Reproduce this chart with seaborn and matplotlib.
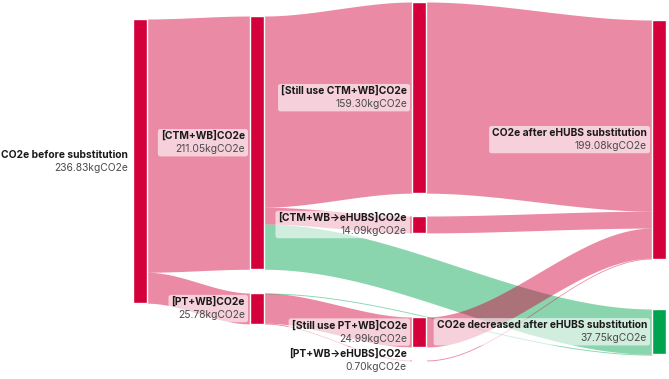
import numpy as np
import matplotlib
matplotlib.use("Agg")
import matplotlib.pyplot as plt
from matplotlib.patches import FancyBboxPatch
import seaborn as sns

sns.set_theme(style="white")
plt.rcParams['font.family'] = ['Inter', 'DejaVu Sans']

# data
node_names = ["CO2e before substitution", "[CTM+WB]CO2e", "[PT+WB]CO2e",
              "[Still use CTM+WB]CO2e", "[CTM+WB\u2192eHUBS]CO2e",
              "[Still use PT+WB]CO2e", "[PT+WB\u2192eHUBS]CO2e",
              "CO2e after eHUBS substitution", "CO2e decreased after eHUBS substitution"]
node_values = [236.83, 211.05, 25.78, 159.30, 14.09, 24.99, 0.70, 199.08, 37.75]
link_source = [0, 0, 1, 1, 1, 2, 2, 2, 3, 4, 5, 6]
link_target = [1, 2, 3, 4, 8, 5, 6, 8, 7, 7, 7, 7]
link_value = [211.05, 25.78, 159.30, 14.09, 37.66, 24.99, 0.70, 0.09, 159.30, 14.09, 24.99, 0.70]
unit = "kgCO2e"

# layout (pixels)
node_col = [0, 1, 1, 2, 2, 2, 2, 3, 3]
col_x = [133, 250, 412, 652]
node_top = [19, 16, 293, 2, 216, 317, 360, 20, 309]
node_w = 14
k = 1.2  # px per kgCO2e
RED = "#d4003b"
GREEN = "#00a34f"
node_color = [RED] * 8 + [GREEN]

fig = plt.figure(figsize=(6.69, 3.79), dpi=100)
ax = fig.add_axes([0, 0, 1, 1])
ax.set_xlim(0, 669)
ax.set_ylim(379, 0)
ax.axis("off")

heights = [max(v * k, 1.2) for v in node_values]
centers = [t + h / 2 for t, h in zip(node_top, heights)]

# link offsets at sources / targets
out_off = {i: node_top[i] for i in range(len(node_names))}
in_off = {i: node_top[i] for i in range(len(node_names))}
src_pos, tgt_pos = {}, {}
for i in range(len(node_names)):
    outs = sorted([j for j, s in enumerate(link_source) if s == i], key=lambda j: centers[link_target[j]])
    for j in outs:
        src_pos[j] = out_off[i]
        out_off[i] += link_value[j] * k
    ins = sorted([j for j, t in enumerate(link_target) if t == i], key=lambda j: centers[link_source[j]])
    for j in ins:
        tgt_pos[j] = in_off[i]
        in_off[i] += link_value[j] * k

t = np.linspace(0, 1, 200)
s = 3 * t ** 2 - 2 * t ** 3
for j in range(len(link_value)):
    a, b = link_source[j], link_target[j]
    x0 = col_x[node_col[a]] + node_w
    x1 = col_x[node_col[b]]
    th = max(link_value[j] * k, 0.9)
    y0, y1 = src_pos[j], tgt_pos[j]
    x = x0 + (x1 - x0) * t
    top = y0 + (y1 - y0) * s
    ax.fill_between(x, top, top + th, color=node_color[b], alpha=0.46, lw=0, zorder=1)

ax.bar([col_x[c] + node_w / 2 for c in node_col], heights, bottom=node_top,
       width=node_w, color=node_color, zorder=3)

fig.canvas.draw()
r = fig.canvas.get_renderer()
inv = ax.transData.inverted()
for i, name in enumerate(node_names):
    xr = col_x[node_col[i]] - 5
    cy = centers[i]
    t1 = ax.text(xr, cy - 6.5, name, ha="right", va="center", fontsize=7.4,
                 fontweight="bold", color="#1a1a1a", zorder=6)
    t2 = ax.text(xr, cy + 6.8, f"{node_values[i]:.2f}{unit}", ha="right", va="center",
                 fontsize=7.4, color="#4a4a4a", zorder=6)
    if node_col[i] == 0:
        continue
    bb = [inv.transform(tx.get_window_extent(r)) for tx in (t1, t2)]
    xs = [p[0] for b_ in bb for p in b_]
    ys = [p[1] for b_ in bb for p in b_]
    xa, xb, ya, yb = min(xs), max(xs), min(ys), max(ys)
    ax.add_patch(FancyBboxPatch((xa - 1, ya), xb - xa + 2, yb - ya,
                                boxstyle="round,pad=2,rounding_size=2.5",
                                fc="white", ec="none", alpha=0.6, zorder=5))

fig.savefig("out.png", dpi=100)
